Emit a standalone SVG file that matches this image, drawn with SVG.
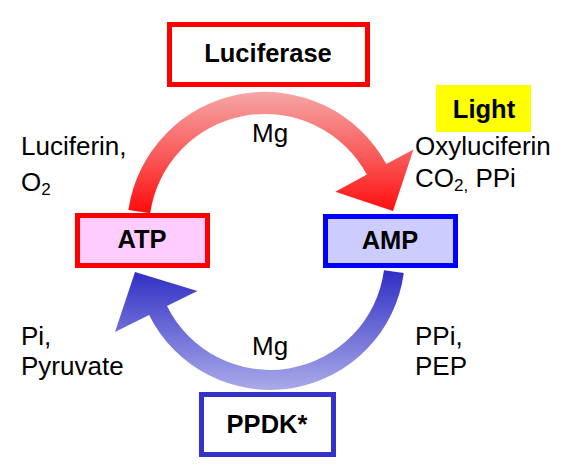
<svg xmlns="http://www.w3.org/2000/svg" width="567" height="465" viewBox="0 0 567 465">
  <style>
    .lbl { font-family: "Liberation Sans", Arial, sans-serif; font-size: 26px; fill: #000; }
    .bold { font-family: "Liberation Sans", Arial, sans-serif; font-size: 25.5px; font-weight: bold; fill: #000; text-anchor: middle; }
    .sub { font-size: 17px; }
    .box { stroke-width: 5; }
  </style>
  <defs>
    <linearGradient id="gRed" gradientUnits="userSpaceOnUse" x1="0" y1="92" x2="0" y2="214">
      <stop offset="0" stop-color="#F6A6A6"/>
      <stop offset="0.55" stop-color="#F95656"/>
      <stop offset="1" stop-color="#FF0A0A"/>
    </linearGradient>
    <linearGradient id="gBlue" gradientUnits="userSpaceOnUse" x1="0" y1="270" x2="0" y2="391">
      <stop offset="0" stop-color="#2E2EC4"/>
      <stop offset="1" stop-color="#ABABEA"/>
    </linearGradient>
  </defs>
  <rect width="567" height="465" fill="#FFFFFF"/>

  <g id="connectors">
    <path id="arrow-luciferase" fill="url(#gRed)" d="M128.4,210.1 A138,138 0 0 1 386.3,164.1 L413.5,149.4 L393,211 L335.3,191.8 L366.9,174.6 A116,116 0 0 0 150.2,213.3 Z"/>
    <path id="arrow-ppdk" fill="url(#gBlue)" d="M403.8,272.9 A135,135 0 0 1 149.1,315 L115,331.9 L135,272 L197.4,291 L167,306.1 A115,115 0 0 0 384,270.2 Z"/>
    <text class="lbl" x="252" y="142">Mg</text>
    <text class="lbl" x="252" y="355">Mg</text>
  </g>

  <g id="node-luciferase">
    <rect class="box" x="169.5" y="24.5" width="198" height="60" fill="#FFFFFF" stroke="#FF0000"/>
    <text class="bold" x="268" y="62">Luciferase</text>
  </g>

  <g id="node-light">
    <rect x="436" y="85" width="95" height="47" fill="#FFFF00"/>
    <text class="bold" x="484" y="118">Light</text>
  </g>

  <g id="node-atp">
    <rect class="box" x="77.5" y="215.5" width="130" height="50" fill="#FFCCFF" stroke="#FF0000"/>
    <text class="bold" x="142" y="248">ATP</text>
  </g>

  <g id="node-amp">
    <rect class="box" x="325.5" y="216.5" width="130" height="49" fill="#CCCCFF" stroke="#0000FF"/>
    <text class="bold" x="390" y="249">AMP</text>
  </g>

  <g id="node-ppdk">
    <rect class="box" x="201.5" y="394.5" width="132" height="60" fill="#FFFFFF" stroke="#3333CC"/>
    <text class="bold" x="267" y="433">PPDK*</text>
  </g>

  <g id="labels">
    <text class="lbl" x="21" y="155">Luciferin,</text>
    <text class="lbl" x="21" y="191">O<tspan class="sub" dy="4">2</tspan></text>
    <text class="lbl" x="415" y="155">Oxyluciferin</text>
    <text class="lbl" x="415" y="187">CO<tspan class="sub" dy="4">2,</tspan><tspan dy="-4"> PPi</tspan></text>
    <text class="lbl" x="21" y="345">Pi,</text>
    <text class="lbl" x="21" y="375">Pyruvate</text>
    <text class="lbl" x="415" y="345">PPi,</text>
    <text class="lbl" x="415" y="375">PEP</text>
  </g>
</svg>
